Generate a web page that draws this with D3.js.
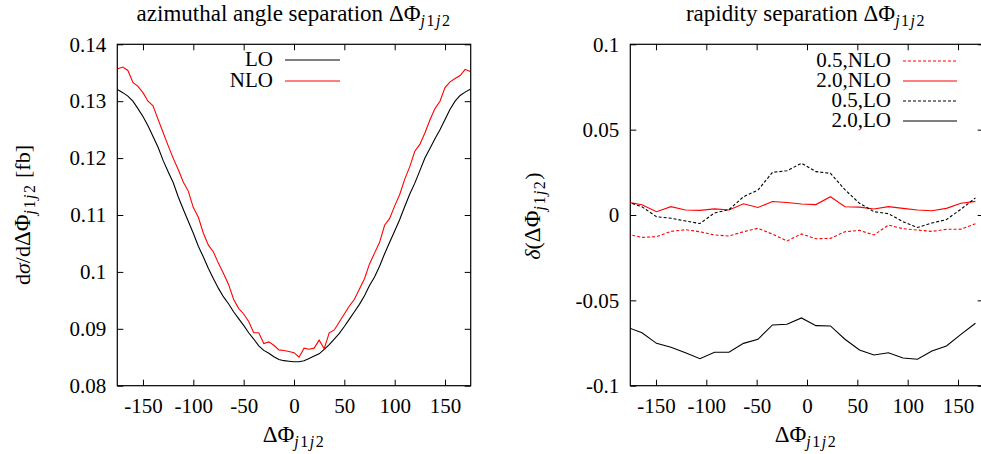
<!DOCTYPE html>
<meta charset="utf-8">
<style>
body { margin: 0; background: #fff; }
svg text { font-family: "Liberation Serif", "DejaVu Serif", serif; font-size: 21px; fill: #000; }
.tick line { stroke: #000; stroke-width: 1; }
.frame { fill: none; stroke: #000; stroke-width: 1.2; }
</style>
<body>
<svg id="chart" width="981" height="454"></svg>
<script src="https://d3js.org/d3.v7.min.js"></script>
<script>
// left panel: d sigma / d delta phi, LO and NLO
var phiX = [-175,-170,-165,-160,-155,-150,-145,-140,-135,-130,-125,-120,-115,-110,-105,-100,-95,-90,-85,-80,
  -75,-70,-65,-60,-55,-50,-45,-40,-35,-30,-25,-20,-15,-10,-5,0,5,10,15,20,25,30,35,40,45,50,55,60,65,70,
  75,80,85,90,95,100,105,110,115,120,125,130,135,140,145,150,155,160,165,170,175];
var lo = [0.1320,0.1315,0.1309,0.1300,0.1287,0.1273,0.1257,0.1238,0.1219,0.1196,
  0.1176,0.1157,0.1132,0.1110,0.1089,0.1068,0.1045,0.1026,0.1006,0.0988,
  0.0971,0.0956,0.0944,0.0930,0.0918,0.0906,0.0893,0.0882,0.0870,0.0862,
  0.0857,0.0851,0.0846,0.0844,0.0843,0.0842,0.0842,0.0844,0.0848,0.0852,
  0.0856,0.0864,0.0872,0.0882,0.0892,0.0904,0.0917,0.0930,0.0943,0.0958,
  0.0976,0.0991,0.1010,0.1032,0.1052,0.1072,0.1092,0.1115,0.1137,0.1156,
  0.1178,0.1200,0.1217,0.1234,0.1250,0.1268,0.1286,0.1300,0.1310,0.1316,0.1321];
var nlo = [0.1357,0.1360,0.1354,0.1333,0.1326,0.1315,0.1300,0.1292,0.1268,0.1245,
  0.1222,0.1200,0.1180,0.1158,0.1142,0.1113,0.1096,0.1068,0.1047,0.1035,
  0.1015,0.0997,0.0978,0.0952,0.0936,0.0926,0.0913,0.0893,0.0893,0.0874,
  0.0877,0.0871,0.0863,0.0862,0.0860,0.0858,0.0850,0.0866,0.0864,0.0866,
  0.0880,0.0865,0.0893,0.0898,0.0912,0.0926,0.0940,0.0952,0.0970,0.0988,
  0.1014,0.1033,0.1052,0.1082,0.1094,0.1116,0.1136,0.1163,0.1185,0.1212,
  0.1224,0.1244,0.1267,0.1287,0.1300,0.1324,0.1334,0.1340,0.1345,0.1356,0.1352];

// right panel: scale variation (0.5 / 2.0) relative deviation
var binX = [-178.3,-163.9,-149.5,-135.1,-120.7,-106.3,-91.9,-77.5,-63.1,-48.7,-34.3,-19.9,-5.5,
  8.9,23.3,37.7,52.1,66.5,80.9,95.3,109.7,124.1,138.5,152.9,167.3];
var nlo05 = [-0.0113,-0.0131,-0.0127,-0.0096,-0.0086,-0.0098,-0.0117,-0.0123,-0.0098,-0.0078,-0.0112,-0.0152,-0.0111,
  -0.0139,-0.0137,-0.0098,-0.0090,-0.0117,-0.0059,-0.0080,-0.0088,-0.0096,-0.0084,-0.0083,-0.0051];
var nlo20 = [0.0075,0.0060,0.0019,0.0049,0.0029,0.0027,0.0036,0.0029,0.0066,0.0044,0.0079,0.0073,0.0064,
  0.0061,0.0107,0.0048,0.0046,0.0035,0.0049,0.0039,0.0029,0.0025,0.0039,0.0069,0.0080];
var lo05 = [0.0076,0.0048,-0.0010,-0.0019,-0.0035,-0.0050,0.0012,0.0031,0.0107,0.0146,0.0250,0.0259,0.0303,
  0.0254,0.0244,0.0148,0.0069,0.0019,0.0008,-0.0039,-0.0073,-0.0047,-0.0027,0.0034,0.0100];
var lo20 = [-0.0658,-0.0690,-0.0752,-0.0775,-0.0807,-0.0842,-0.0804,-0.0804,-0.0752,-0.0728,-0.0644,-0.0640,-0.0603,
  -0.0648,-0.0650,-0.0728,-0.0791,-0.0820,-0.0807,-0.0838,-0.0845,-0.0797,-0.0767,-0.0699,-0.0634];

var xTicks = [-150,-100,-50,0,50,100,150];
var leftYTicks = [0.08,0.09,0.1,0.11,0.12,0.13,0.14];
var rightYTicks = [-0.1,-0.05,0,0.05,0.1];

var svg = d3.select("#chart");
var top_ = 44.3, bottom = 385.7;
// Delta Phi with j1j2 subscript
var DPHI = [["ΔΦ","g"],["j","si"],["1","s"],["j","si"],["2","s"]];

// text with italic parts, bigger greek and subscripts
function rich(t, parts) {
  var down = false;
  parts.forEach(function(p) {
    var s = t.append("tspan").text(p[0]);
    var sub = p[1].indexOf("s") >= 0;
    if (p[1].indexOf("i") >= 0) s.style("font-style", "italic");
    if (p[1].indexOf("g") >= 0) s.style("font-size", "23px");
    if (sub) s.style("font-size", "16px").style("letter-spacing", "1.5px");
    if (sub && !down) { s.attr("dy", 5); down = true; }
    if (!sub && down) { s.attr("dy", -5); down = false; }
  });
  return t;
}

function fmt(d) { return String(+d.toFixed(3)); }

function panel(x0, x1, yDomain, yTicks, id) {
  var x = d3.scaleLinear().domain([-175.5, 175.5]).range([x0, x1]);
  var y = d3.scaleLinear().domain(yDomain).range([bottom, top_]);
  var g = svg.append("g");

  g.append("clipPath").attr("id", id).append("rect")
    .attr("x", x0).attr("y", top_).attr("width", x1 - x0).attr("height", bottom - top_);

  g.append("g").attr("transform", "translate(0," + bottom + ")")
    .call(d3.axisBottom(x).tickValues(xTicks).tickSize(-6).tickSizeOuter(0).tickPadding(12).tickFormat(fmt))
    .select(".domain").remove();
  g.append("g").attr("transform", "translate(0," + top_ + ")")
    .call(d3.axisTop(x).tickValues(xTicks).tickSize(-6).tickSizeOuter(0).tickFormat(""))
    .select(".domain").remove();
  g.append("g").attr("transform", "translate(" + x0 + ",0)")
    .call(d3.axisLeft(y).tickValues(yTicks).tickSize(-6).tickSizeOuter(0).tickPadding(11).tickFormat(fmt))
    .select(".domain").remove();
  g.append("g").attr("transform", "translate(" + x1 + ",0)")
    .call(d3.axisRight(y).tickValues(yTicks).tickSize(-6).tickSizeOuter(0).tickFormat(""))
    .select(".domain").remove();
  // d3 puts sans-serif on the axis groups, drop it
  g.selectAll("g").attr("font-family", null).attr("font-size", null);

  g.append("rect").attr("class", "frame")
    .attr("x", x0).attr("y", top_).attr("width", x1 - x0).attr("height", bottom - top_);

  return { g: g, x: x, y: y, id: id };
}

function curve(p, xs, ys, color, dash) {
  var line = d3.line().x(function(d, i) { return p.x(xs[i]); }).y(function(d) { return p.y(d); });
  p.g.append("path").datum(ys)
    .attr("d", line)
    .attr("clip-path", "url(#" + p.id + ")")
    .attr("fill", "none")
    .attr("stroke", color)
    .attr("stroke-width", 1.1)
    .attr("stroke-dasharray", dash ? "3,2" : null);
}

function legendRow(p, label, yLine, x0, x1, color, dash) {
  p.g.append("text").attr("x", x0 - 12).attr("y", yLine + 6).attr("text-anchor", "end").text(label);
  p.g.append("line").attr("x1", x0).attr("x2", x1).attr("y1", yLine).attr("y2", yLine)
    .attr("stroke", color).attr("stroke-width", 1.1).attr("stroke-dasharray", dash ? "3,2" : null);
}

// ---- left
var L = panel(117.3, 470.7, [0.08, 0.14], leftYTicks, "clipL");
curve(L, phiX, lo, "#000", false);
curve(L, phiX, nlo, "#ff0000", false);
legendRow(L, "LO", 60, 285, 340, "#000", false);
legendRow(L, "NLO", 81, 285, 340, "#ff0000", false);

rich(svg.append("text").attr("x", 294).attr("y", 21).attr("text-anchor", "middle").style("font-size", "23px"),
  [["azimuthal angle separation ", ""]].concat(DPHI));
rich(svg.append("text").attr("x", 294).attr("y", 442).attr("text-anchor", "middle"), DPHI);
rich(svg.append("text").attr("transform", "translate(30,215) rotate(-90)").attr("text-anchor", "middle").style("font-size", "22px"),
  [["d", ""], ["σ", "i"], ["/d", ""]].concat(DPHI).concat([[" [fb]", ""]]));

// ---- right
var R = panel(630.3, 983.7, [-0.1, 0.1], rightYTicks, "clipR");
curve(R, binX, nlo05, "#ff0000", true);
curve(R, binX, nlo20, "#ff0000", false);
curve(R, binX, lo05, "#000", true);
curve(R, binX, lo20, "#000", false);
legendRow(R, "0.5,NLO", 61, 903, 957, "#ff0000", true);
legendRow(R, "2.0,NLO", 81, 903, 957, "#ff0000", false);
legendRow(R, "0.5,LO", 101, 903, 957, "#000", true);
legendRow(R, "2.0,LO", 121, 903, 957, "#000", false);

rich(svg.append("text").attr("x", 806).attr("y", 21).attr("text-anchor", "middle").style("font-size", "23px"),
  [["rapidity separation ", ""]].concat(DPHI));
rich(svg.append("text").attr("x", 806).attr("y", 442).attr("text-anchor", "middle"), DPHI);
rich(svg.append("text").attr("transform", "translate(540,216) rotate(-90)").attr("text-anchor", "middle").style("font-size", "22px"),
  [["δ", "i"], ["(", ""]].concat(DPHI).concat([[")", ""]]));
</script>
</body>
